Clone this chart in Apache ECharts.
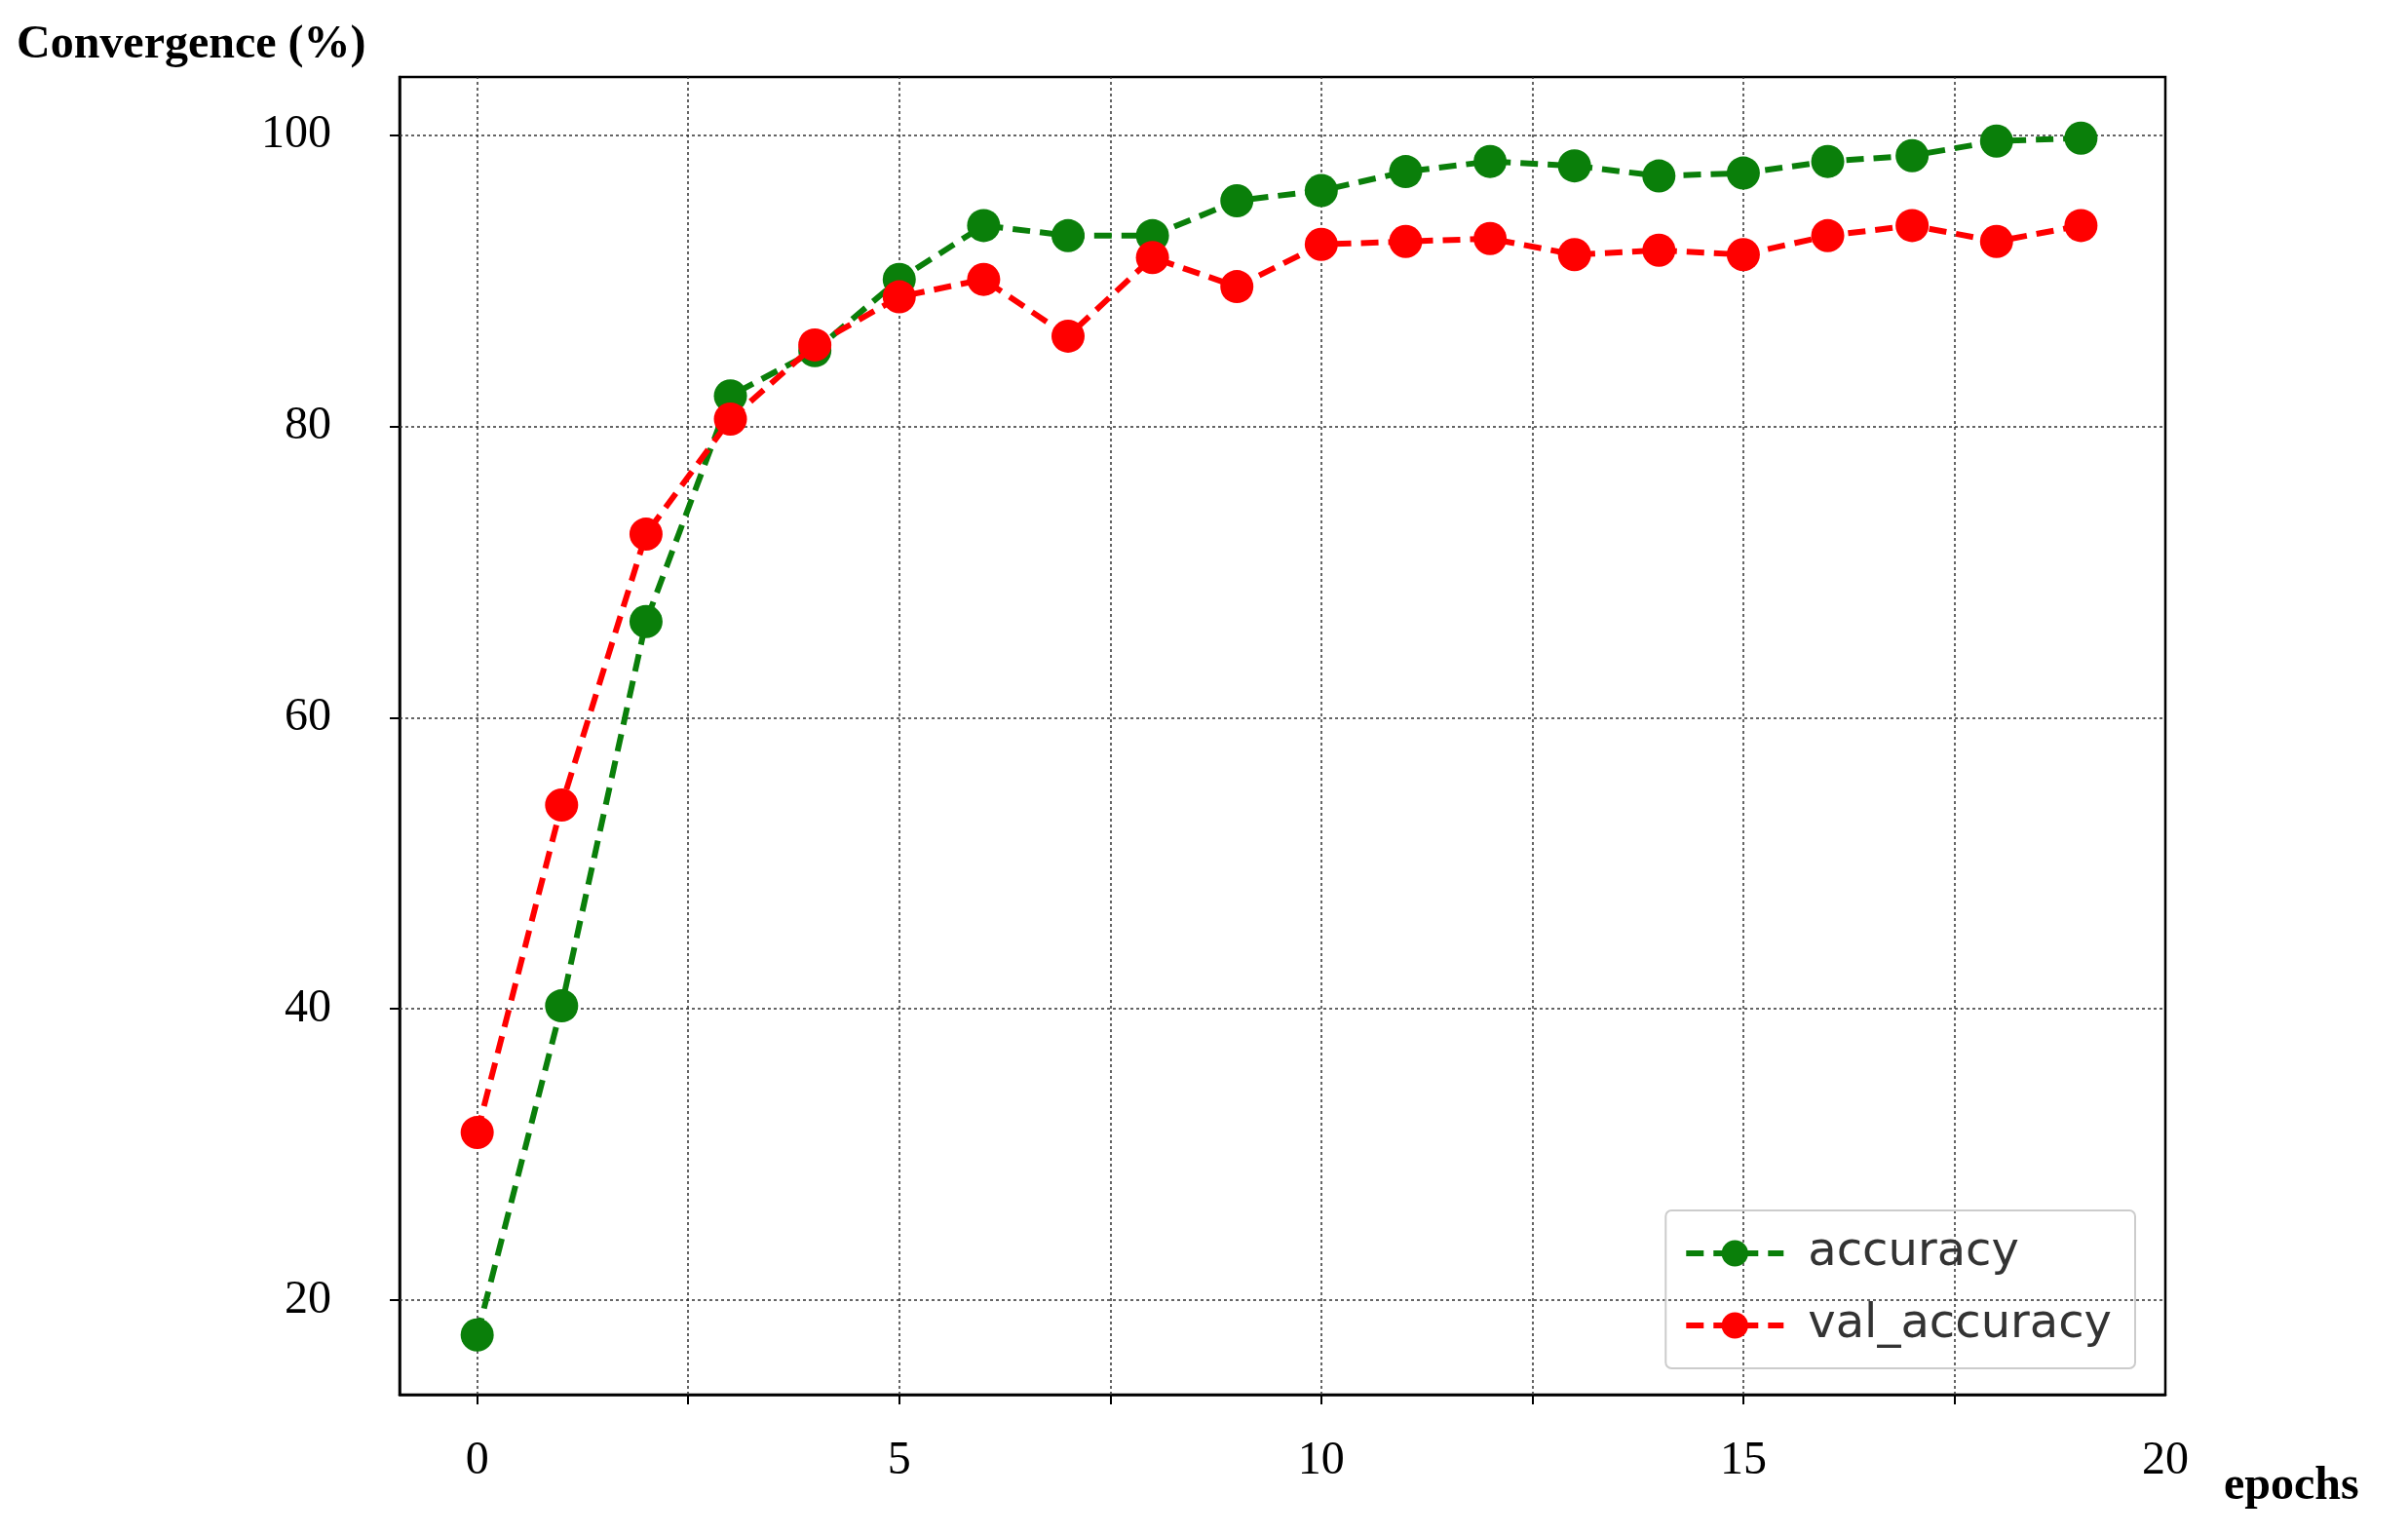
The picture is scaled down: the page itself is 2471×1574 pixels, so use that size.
<!DOCTYPE html>
<html><head><meta charset="utf-8">
<script src="https://cdn.jsdelivr.net/npm/echarts@6/dist/echarts.min.js"></script>
<style>html,body{margin:0;background:#fff}#c{width:2471px;height:1574px}</style>
</head><body><div id="c"></div>
<script>
const epochs = [0,1,2,3,4,5,6,7,8,9,10,11,12,13,14,15,16,17,18,19];
const accuracy = [17.6,40.2,66.6,82.1,85.2,90.1,93.8,93.1,93.1,95.5,96.2,97.5,98.2,97.9,97.2,97.4,98.2,98.6,99.6,99.8];
const valAccuracy = [31.5,54.0,72.6,80.5,85.6,88.9,90.1,86.2,91.6,89.6,92.5,92.7,92.9,91.8,92.1,91.8,93.1,93.8,92.7,93.8];
const xTicks = [0,5,10,15,20];
const xGrid = [0,2.5,5,7.5,10,12.5,15,17.5];
const yTicks = [20,40,60,80,100];

const chart = echarts.init(document.getElementById('c'));
const gridStyle = {color:'#333', type:[3,3], width:1.5};
const serif = 'Liberation Serif';
chart.setOption({
  animation:false,
  grid:{left:410,right:249,top:79,bottom:143,show:true,borderColor:'#000',borderWidth:2.5,backgroundColor:'transparent'},
  title:{text:'Convergence (%)',left:12,top:18,textStyle:{fontFamily:serif,fontWeight:'bold',fontSize:48,color:'#000'}},
  graphic:[{type:'text',left:2282,top:1502,style:{text:'epochs',font:'bold 48px "Liberation Serif"',fill:'#000'}}],
  legend:{right:280,bottom:170,orient:'vertical',itemWidth:100,itemHeight:34,itemGap:26,
    borderColor:'#ccc',borderWidth:2,borderRadius:6,padding:[20,24,20,18],
    lineStyle:{width:6},
    textStyle:{fontFamily:'DejaVu Sans',fontSize:48,color:'#333',padding:[0,0,0,20]},
    data:['accuracy','val_accuracy']},
  xAxis:{type:'value',min:-0.92,max:20,
    axisLine:{onZero:false,lineStyle:{color:'#000',width:2.5}},
    axisTick:{customValues:xGrid,length:10,lineStyle:{color:'#000',width:2}},
    axisLabel:{customValues:xTicks,margin:44,fontFamily:serif,fontSize:48,color:'#000'},
    splitLine:{show:false}},
  yAxis:{type:'value',min:13.5,max:104,
    axisLine:{show:true,onZero:false,lineStyle:{color:'#000',width:2.5}},
    axisTick:{show:true,customValues:yTicks,length:10,lineStyle:{color:'#000',width:2}},
    axisLabel:{customValues:yTicks,margin:70,fontFamily:serif,fontSize:48,color:'#000'},
    splitLine:{show:false}},
  series:[
    {name:'accuracy',type:'line',data:epochs.map((e,i)=>[e,accuracy[i]]),
     color:'#0a7f0a',symbol:'circle',symbolSize:34,z:3,
     lineStyle:{width:6,type:[18,10]},
     markLine:{silent:true,symbol:'none',label:{show:false},lineStyle:gridStyle,z:1,
       data:xGrid.map(v=>({xAxis:v})).concat(yTicks.map(v=>({yAxis:v})))}},
    {name:'val_accuracy',type:'line',data:epochs.map((e,i)=>[e,valAccuracy[i]]),
     color:'#ff0000',symbol:'circle',symbolSize:34,z:4,
     lineStyle:{width:6,type:[18,10]}}
  ]
});
</script></body></html>
